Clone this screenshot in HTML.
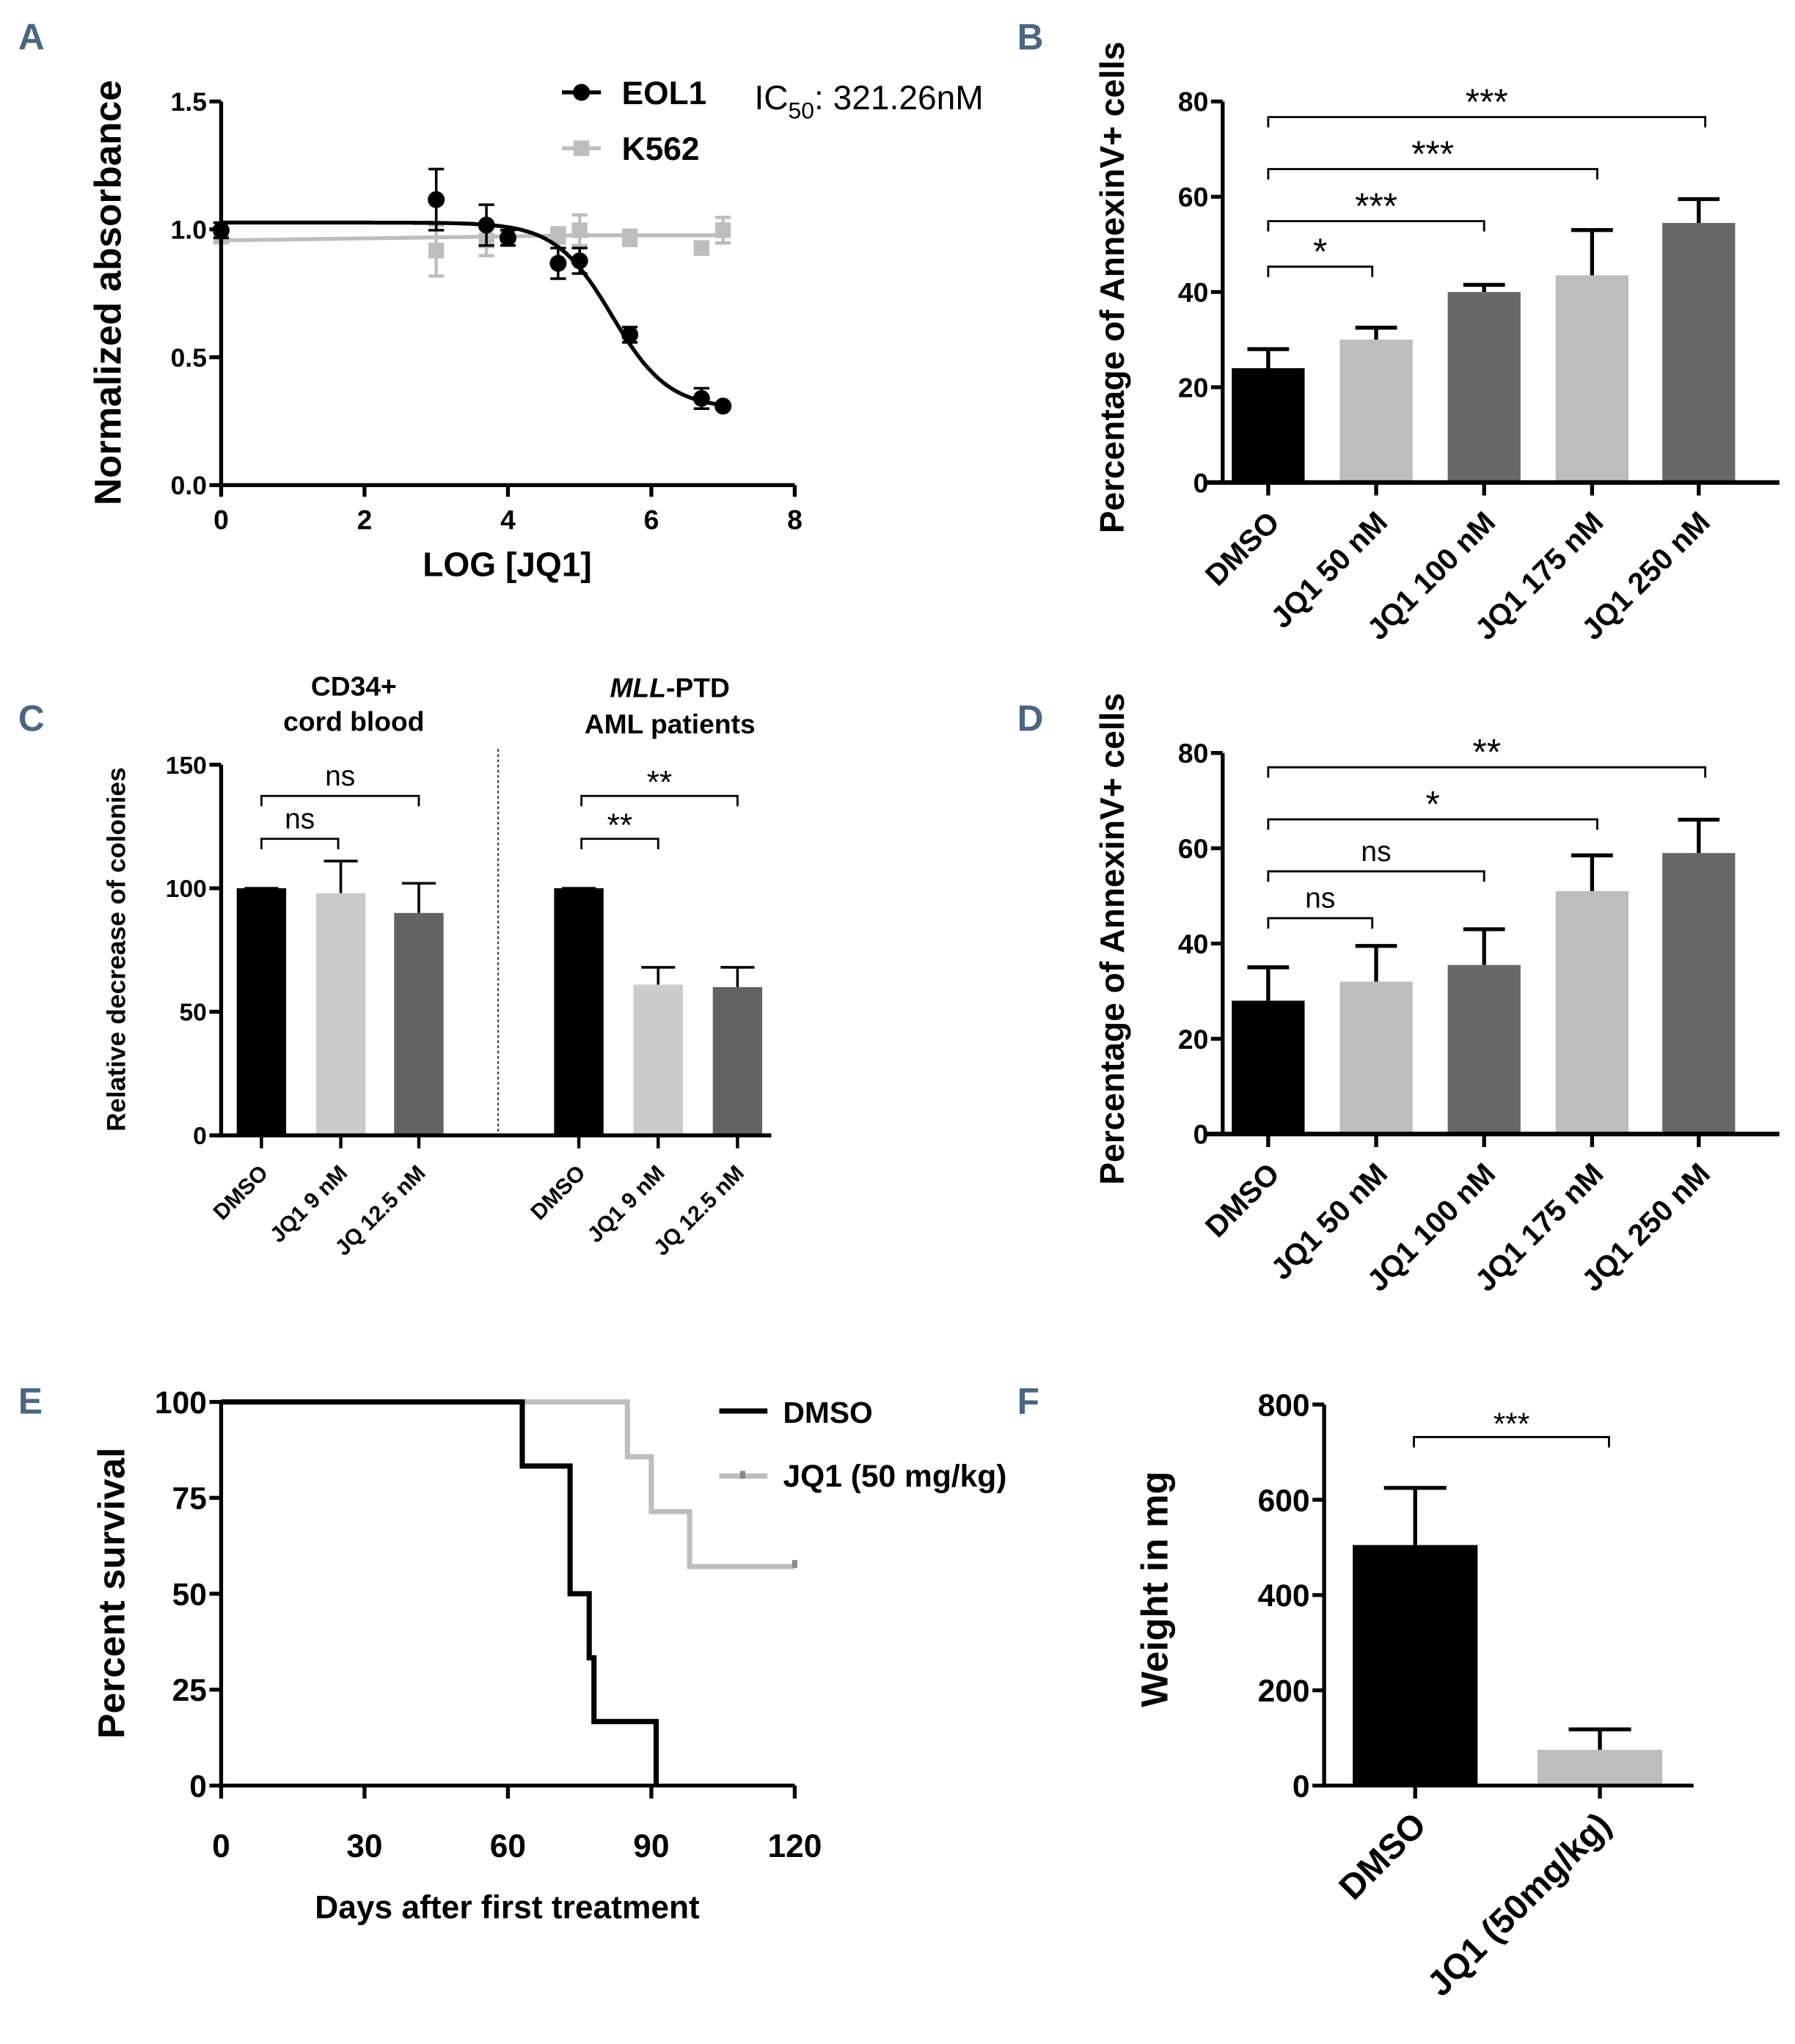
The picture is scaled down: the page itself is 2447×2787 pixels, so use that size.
<!DOCTYPE html>
<html><head><meta charset="utf-8"><style>
html,body{margin:0;padding:0;background:#fff}
svg{display:block}
text{font-family:"Liberation Sans",sans-serif}
</style></head><body>
<svg id="fig" xmlns="http://www.w3.org/2000/svg" width="2447" height="2787" viewBox="0 0 1380 1571.7">
<g fill="#4d6680" font-size="28" font-weight="bold">
<text x="14" y="38">A</text>
<text x="782" y="38">B</text>
<text x="14" y="562">C</text>
<text x="782" y="562">D</text>
<text x="14" y="1087">E</text>
<text x="782" y="1087">F</text>
</g>
</svg>
<script>
const NS='http://www.w3.org/2000/svg';
const svg=document.getElementById('fig');
function el(t,a,p){const e=document.createElementNS(NS,t);for(const k in a)e.setAttribute(k,a[k]);(p||svg).appendChild(e);return e;}
function txt(s,a,p){const e=el('text',a,p);e.textContent=s;return e;}

// ---------- Panel A data ----------
const aXTicks=[0,2,4,6,8];
const aYTicks=[0.0,0.5,1.0,1.5];
const eolX=[0,3,3.7,4,4.7,5,5.7,6.7,7];
const eolY=[1.0,1.12,1.02,0.97,0.87,0.88,0.59,0.34,0.31];
const eolErr=[0.03,0.12,0.08,0.03,0.06,0.05,0.03,0.04,0.01];
const k562X=[0,3,3.7,4.7,5,5.7,6.7,7];
const k562Y=[0.98,0.92,0.96,0.98,1.0,0.97,0.93,1.0];
const k562Err=[0.03,0.1,0.06,0.03,0.06,0.03,0.01,0.05];
const eolFit=[1.03,0.30,5.45,-1.1]; // top,bottom,logIC50,hill
const k562Fit=[0.96,0.98];

// ---------- Panel B/D data ----------
const bCats=['DMSO','JQ1 50 nM','JQ1 100 nM','JQ1 175 nM','JQ1 250 nM'];
const bVals=[24,30,40,43.5,54.5];
const bErr=[28,32.5,41.5,53,59.5];
const bSig=['*','***','***','***'];
const dVals=[28,32,35.5,51,59];
const dErr=[35,39.5,43,58.5,66];
const dSig=['ns','ns','*','**'];
const bdTicks=[0,20,40,60,80];
// ---------- Panel C data ----------
const cCats=['DMSO','JQ1 9 nM','JQ 12.5 nM','DMSO','JQ1 9 nM','JQ 12.5 nM'];
const cVals=[100,98,90,100,61,60];
const cErr=[100,111,102,100,68,68];
const cSig=['ns','ns','**','**'];
const cTicks=[0,50,100,150];
// ---------- Panel E data ----------
const eXTicks=[0,30,60,90,120];
const eYTicks=[0,25,50,75,100];
const dmsoT=[0,63,73,77,78,91];
const dmsoS=[100,83.3,50,33.3,16.7,0];
const jq1T=[0,85,90,98];
const jq1S=[100,85.7,71.4,57.1];
const eEnd=120;
// ---------- Panel F data ----------
const fCats=['DMSO','JQ1 (50mg/kg)'];
const fVals=[505,75];
const fErr=[625,118];
const fTicks=[0,200,400,600,800];

const BLACK='#000',LG='#bdbdbd',DG='#686868';

function yAxis(x,y0,y1,ticks,min,max,fs,fmt,name){
  const g=el('g',{});
  
  
  el('line',{x1:x,y1:y0+1.5,x2:x,y2:y1,stroke:'#000','stroke-width':3},g);
  ticks.forEach(t=>{const y=y0-(t-min)/(max-min)*(y0-y1);
    el('line',{x1:x-9,x2:x,y1:y,y2:y,stroke:'#000','stroke-width':3},g);
    const l=txt(fmt(t),{x:x-11,y:y+fs*0.36,'text-anchor':'end','font-size':fs,'font-weight':'bold'},g);
    
    
  });
}
function ylabel(s,cx,cy,fs,name){const t=txt(s,{x:cx,y:cy,'text-anchor':'middle','font-size':fs,'font-weight':'bold',transform:`rotate(-90 ${cx} ${cy})`,'dominant-baseline':'middle'});
  
  }

// ---------- Panel A ----------
(function(){
  const X=v=>170+v*(441/8), Y=v=>373-v*(294/1.5);
  const g=el('g',{});
  
  
  yAxis(170,373,78,aYTicks,0,1.5,20,t=>t.toFixed(1),'panel-a-y-axis');
  el('line',{x1:168.5,x2:X(8),y1:373,y2:373,stroke:'#000','stroke-width':3},g);
  aXTicks.forEach(t=>{el('line',{x1:X(t),x2:X(t),y1:373,y2:382,stroke:'#000','stroke-width':3},g);
    const l=txt(String(t),{x:X(t),y:407,'text-anchor':'middle','font-size':21,'font-weight':'bold'},g);
    
    });
  let p='';for(let i=0;i<=140;i++){const x=i*7/140;const[t,b,ic,h]=eolFit;const y=b+(t-b)/(1+Math.pow(10,(ic-x)*h));p+=(i?'L':'M')+X(x).toFixed(1)+','+Y(y).toFixed(1);}
  const kp=el('path',{d:`M${X(0)},${Y(k562Fit[0])}L${X(5)},${Y(k562Fit[1])}L${X(7)},${Y(k562Fit[1])}`,stroke:LG,'stroke-width':3,fill:'none'},g);
  
  
  k562X.forEach((x,i)=>{const cx=X(x),cy=Y(k562Y[i]),e=k562Err[i];
    el('path',{d:`M${cx},${Y(k562Y[i]+e)}V${Y(k562Y[i]-e)}M${cx-6},${Y(k562Y[i]+e)}h12M${cx-6},${Y(k562Y[i]-e)}h12`,stroke:LG,'stroke-width':2.5,fill:'none'},g);
    const m=el('rect',{x:cx-6,y:cy-6,width:12,height:12,fill:LG},g);
    
    });
  const ep=el('path',{d:p,stroke:'#000','stroke-width':3,fill:'none'},g);
  
  
  eolX.forEach((x,i)=>{const cx=X(x),cy=Y(eolY[i]),e=eolErr[i];
    el('path',{d:`M${cx},${Y(eolY[i]+e)}V${Y(eolY[i]-e)}M${cx-6},${Y(eolY[i]+e)}h12M${cx-6},${Y(eolY[i]-e)}h12`,stroke:'#000','stroke-width':2,fill:'none'},g);
    const m=el('circle',{cx,cy,r:6.5,fill:'#000'},g);
    
    });
  const l1=el('g',{},g);
  
  
  el('line',{x1:432,x2:462,y1:71,y2:71,stroke:'#000','stroke-width':3},l1);
  el('circle',{cx:447,cy:71,r:6.5},l1);
  txt('EOL1',{x:478,y:80,'font-size':25,'font-weight':'bold'},l1);
  const l2=el('g',{},g);
  
  
  el('line',{x1:432,x2:462,y1:114,y2:114,stroke:LG,'stroke-width':3},l2);
  el('rect',{x:441,y:108,width:12,height:12,fill:LG},l2);
  txt('K562',{x:478,y:123,'font-size':25,'font-weight':'bold'},l2);
  const ic=el('text',{x:580,y:84,'font-size':26},g);
  ic.innerHTML='IC<tspan font-size="18" dy="7">50</tspan><tspan dy="-7">: 321.26nM</tspan>';
  
  
  const xl=txt('LOG [JQ1]',{x:390,y:443,'text-anchor':'middle','font-size':26,'font-weight':'bold'},g);
  
  
  ylabel('Normalized absorbance',85,225,29,'y-axis-title');
})();

function bracket(x1,x2,y,label,fs,name){
  const g=el('g',{});
  
  
  el('path',{d:`M${x1},${y+8}V${y}H${x2}V${y+8}`,stroke:'#000','stroke-width':1.6,fill:'none'},g);
  txt(label,{x:(x1+x2)/2,y:label.includes('*')?y-2:y-8,'text-anchor':'middle','font-size':label.includes('*')?fs+6:fs},g);
}
function xcat(s,x,y,fs,name){const t=txt(s,{x,y,'text-anchor':'end','font-size':fs,'font-weight':'bold',transform:`rotate(-45 ${x} ${y})`});
  
  }

// ---------- Panels B & D ----------
function annex(y0,vals,errs,sig,bY,panel){
  const top=y0-293, Y=v=>y0-v/80*293;
  const cols=[BLACK,LG,DG,LG,DG], xs=[975,1058,1141,1224,1306];
  const g=el('g',{});
  
  
  vals.forEach((v,i)=>{
    el('path',{d:`M${xs[i]},${Y(v)}V${Y(errs[i])}M${xs[i]-16},${Y(errs[i])}h32`,stroke:'#000','stroke-width':3,fill:'none'},g);
    const r=el('rect',{x:xs[i]-28,y:Y(v),width:56,height:y0-Y(v),fill:cols[i]},g);
    
    
  });
  yAxis(940,y0,top,bdTicks,0,80,21,String,panel+'-y-axis');
  el('line',{x1:928,x2:1368,y1:y0,y2:y0,stroke:'#000','stroke-width':3.5},g);
  xs.forEach((x,i)=>{el('line',{x1:x,x2:x,y1:y0,y2:y0+10,stroke:'#000','stroke-width':3},g);
    xcat(bCats[i],x+10,y0+32,23,'x-tick-label');});
  const ends=[1055,1141,1228,1311];
  sig.forEach((s,i)=>bracket(975,ends[i],bY[i],s,22,'significance-bracket'));
  ylabel('Percentage of AnnexinV+ cells',857,y0-150,26,'y-axis-title');
}
annex(371,bVals,bErr,bSig,[205,170,130,90],'panel-b-annexin');
annex(872,dVals,dErr,dSig,[706,670,630,590],'panel-d-annexin');

// ---------- Panel C ----------
(function(){
  const y0=873, Y=v=>y0-v/150*285, xs=[201,262,322,445,506,567], cols=[BLACK,'#cbcbcb','#636363',BLACK,'#cbcbcb','#636363'];
  const g=el('g',{});
  
  
  cVals.forEach((v,i)=>{
    el('path',{d:`M${xs[i]},${Y(v)}V${Y(cErr[i])}M${xs[i]-13},${Y(cErr[i])}h26`,stroke:'#000','stroke-width':2,fill:'none'},g);
    const r=el('rect',{x:xs[i]-19,y:Y(v),width:38,height:y0-Y(v),fill:cols[i]},g);
    
    
    el('line',{x1:xs[i],x2:xs[i],y1:y0,y2:y0+10,stroke:'#000','stroke-width':2.5},g);
    xcat(cCats[i],xs[i]+6,y0+30,17,'x-tick-label');
  });
  yAxis(170,y0,588,cTicks,0,150,19,String,'panel-c-y-axis');
  el('line',{x1:165,x2:593,y1:y0,y2:y0,stroke:'#000','stroke-width':3},g);
  el('line',{x1:383,x2:383,y1:576,y2:870,stroke:'#333','stroke-width':1.2,'stroke-dasharray':'2,2'},g);
  bracket(201,260,645,cSig[0],22,'significance-bracket');
  bracket(201,322,612,cSig[1],22,'significance-bracket');
  bracket(447,506,645,cSig[2],19,'significance-bracket');
  bracket(447,567,612,cSig[3],19,'significance-bracket');
  const h=el('g',{'font-size':21,'font-weight':'bold','text-anchor':'middle'},g);
  
  
  txt('CD34+',{x:272,y:535},h);txt('cord blood',{x:272,y:562},h);
  const m=el('text',{x:515,y:536},h);m.innerHTML='<tspan font-style="italic">MLL</tspan>-PTD';
  txt('AML patients',{x:515,y:564},h);
  ylabel('Relative decrease of colonies',91,730,20,'y-axis-title');
})();

// ---------- Panel E ----------
(function(){
  const X=v=>170+v/120*441, Y=v=>1373-v/100*295;
  const g=el('g',{});
  
  
  function steps(T,S){let d=`M${X(T[0])},${Y(S[0])}`;for(let i=1;i<T.length;i++)d+=`H${X(T[i])}V${Y(S[i])}`;return d;}
  const j=el('path',{d:steps(jq1T,jq1S)+`H${X(eEnd)}`,stroke:LG,'stroke-width':4,fill:'none'},g);
  
  
  el('line',{x1:X(eEnd),x2:X(eEnd),y1:Y(jq1S[jq1S.length-1])-5,y2:Y(jq1S[jq1S.length-1])+1,stroke:'#888','stroke-width':4},g);
  const d=el('path',{d:steps(dmsoT,dmsoS),stroke:'#000','stroke-width':4,fill:'none'},g);
  
  
  yAxis(170,1373,1078,eYTicks,0,100,24,String,'panel-e-y-axis');
  el('line',{x1:168.5,x2:X(120),y1:1373,y2:1373,stroke:'#000','stroke-width':3},g);
  eXTicks.forEach(t=>{el('line',{x1:X(t),x2:X(t),y1:1373,y2:1383,stroke:'#000','stroke-width':3},g);
    const l=txt(String(t),{x:X(t),y:1428,'text-anchor':'middle','font-size':25,'font-weight':'bold'},g);
    
    });
  const l1=el('g',{},g);
  
  
  el('line',{x1:553,x2:590,y1:1085,y2:1085,stroke:'#000','stroke-width':4},l1);
  txt('DMSO',{x:602,y:1094,'font-size':23,'font-weight':'bold'},l1);
  const l2=el('g',{},g);
  
  
  el('line',{x1:553,x2:590,y1:1135,y2:1135,stroke:LG,'stroke-width':4},l2);
  el('rect',{x:569,y:1131,width:4,height:6,fill:'#888'},l2);
  txt('JQ1 (50 mg/kg)',{x:602,y:1143,'font-size':24,'font-weight':'bold'},l2);
  const xl=txt('Days after first treatment',{x:390,y:1475,'text-anchor':'middle','font-size':25,'font-weight':'bold'},g);
  
  
  ylabel('Percent survival',88,1225,29,'y-axis-title');
})();

// ---------- Panel F ----------
(function(){
  const y0=1373, Y=v=>y0-v/800*293, xs=[1088,1230], cols=[BLACK,LG];
  const g=el('g',{});
  
  
  fVals.forEach((v,i)=>{
    el('path',{d:`M${xs[i]},${Y(v)}V${Y(fErr[i])}M${xs[i]-24},${Y(fErr[i])}h48`,stroke:'#000','stroke-width':3,fill:'none'},g);
    const r=el('rect',{x:xs[i]-48,y:Y(v),width:96,height:y0-Y(v),fill:cols[i]},g);
    
    
    el('line',{x1:xs[i],x2:xs[i],y1:y0,y2:y0+10,stroke:'#000','stroke-width':3},g);
    xcat(fCats[i],xs[i]+10,y0+32,27,'x-tick-label');
  });
  yAxis(1018,y0,1080,fTicks,0,800,24,String,'panel-f-y-axis');
  el('line',{x1:1016,x2:1302,y1:y0,y2:y0,stroke:'#000','stroke-width':3},g);
  bracket(1087,1237,1105,'***',18,'significance-bracket');
  ylabel('Weight in mg',890,1222,29,'y-axis-title');
})();
</script>
</body></html>
